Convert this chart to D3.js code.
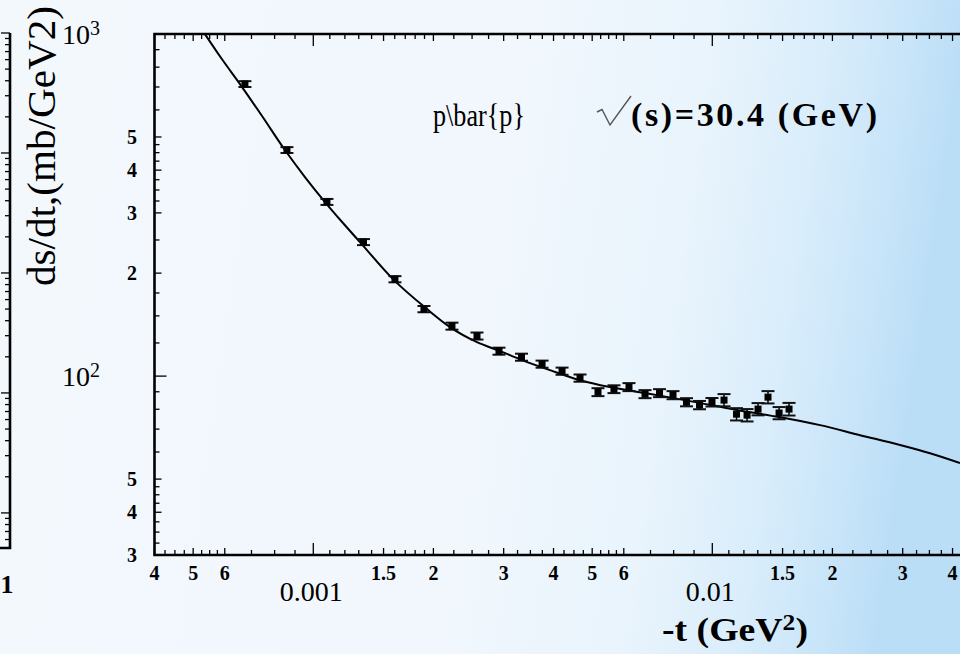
<!DOCTYPE html>
<html>
<head>
<meta charset="utf-8">
<script src="https://cdn.jsdelivr.net/npm/d3@7"></script>
<style>
  html, body { margin: 0; padding: 0; overflow: hidden; }
  svg { display: block; }
  text { font-family: "Liberation Serif", "Times New Roman", serif; fill: #000; }
</style>
</head>
<body>
<svg id="chart" width="960" height="654"></svg>
<script>
// Measured p-pbar elastic differential cross section, sqrt(s) = 30.4 GeV
const tValues = [0.000674, 0.000859, 0.001082, 0.001336, 0.001602, 0.001894, 0.002226, 0.002572,
  0.00292, 0.003325, 0.003744, 0.004202, 0.004661, 0.00517, 0.00567, 0.006183, 0.006782,
  0.007374, 0.00797, 0.008615, 0.009289, 0.00998, 0.0107, 0.0115, 0.01222, 0.01302,
  0.01379, 0.0147, 0.01557];
const dsdtValues = [714, 458, 323, 246.5, 192, 157, 140, 131, 118.3, 113.6, 108.4, 103.4, 98.7,
  89.8, 91.6, 92.9, 88.6, 89.2, 88.0, 83.9, 82.3, 83.9, 85.1, 77.4, 76.9, 80.1, 86.8, 78.0, 80.1];
const dsdtErrors = [14, 9, 6.5, 5, 4, 3.3, 3.3, 3.1, 2.8, 2.7, 2.6, 2.5, 2.4, 2.4, 2.4, 2.5, 2.4,
  2.4, 2.4, 2.3, 2.3, 2.4, 3.5, 3.2, 3.2, 3.3, 3.6, 3.2, 3.4];

// Model curve
const curveT = [0.000535, 0.00059, 0.000655, 0.000744, 0.000849, 0.000953, 0.00107, 0.001187,
  0.001309, 0.001584, 0.001928, 0.002201, 0.002572, 0.002938, 0.003335, 0.003919, 0.00466,
  0.005541, 0.006782, 0.008794, 0.01153, 0.0147, 0.01862, 0.02346, 0.02954, 0.03513, 0.04176];
const curveDsdt = [1000, 845, 714, 575.8, 458, 381.9, 322.7, 280.2, 246.5, 192.1, 157, 139.1,
  125.7, 118.3, 111.4, 104.1, 97.3, 92.9, 89.2, 84.5, 79.6, 75.9, 71.9, 67.2, 62.9, 59.5, 55.7];

// Axis tick labels
const xLabelValues = [0.0004, 0.0005, 0.0006, 0.0015, 0.002, 0.003, 0.004, 0.005, 0.006, 0.015, 0.02, 0.03, 0.04];
const xLabelTexts  = ["4", "5", "6", "1.5", "2", "3", "4", "5", "6", "1.5", "2", "3", "4"];
const xDecadeValues = [0.001, 0.01];
const xDecadeTexts  = ["0.001", "0.01"];
const yLabelValues = [500, 400, 300, 200, 50, 40, 30];
const yLabelTexts  = ["5", "4", "3", "2", "5", "4", "3"];
const yDecadeValues = [1000, 100];
const yDecadeExps   = ["3", "2"];

// Mantissas at which minor ticks are placed inside each decade
const xTickMantissas = [1, 1.1, 1.2, 1.3, 1.4, 1.5, 1.6, 1.7, 1.8, 1.9, 2, 2.25, 2.5, 2.75, 3,
  3.25, 3.5, 3.75, 4, 4.25, 4.5, 4.75, 5, 5.25, 5.5, 5.75, 6, 7, 8, 9];
const yTickMantissas = [1, 1.25, 1.5, 1.75, 2, 2.5, 3, 3.25, 3.5, 3.75, 4, 4.25, 4.5, 4.75, 5, 6, 7, 8, 9];

const W = 960, H = 654;
const svg = d3.select("#chart");

// Background wash
const defs = svg.append("defs");
const grad = defs.append("linearGradient").attr("id", "bg").attr("x1", 0).attr("y1", 0).attr("x2", 1).attr("y2", 0.1);
[[0, "#f3f8fd"], [0.55, "#f1f7fd"], [0.74, "#e9f4fc"], [0.86, "#d9edfb"], [0.94, "#c9e5f9"], [1, "#bbdef7"]]
  .forEach(([o, c]) => grad.append("stop").attr("offset", o).attr("stop-color", c));
svg.append("rect").attr("width", W).attr("height", H).attr("fill", "url(#bg)");

const plot = { left: 154.5, right: 961, top: 34, bottom: 555 };
const x = d3.scaleLog().domain([0.0004, 0.042]).range([plot.left, plot.right]);
const y = d3.scaleLog().domain([30, 1000]).range([plot.bottom, plot.top]);

defs.append("clipPath").attr("id", "plotClip").append("rect")
  .attr("x", plot.left).attr("y", plot.top)
  .attr("width", plot.right - plot.left).attr("height", plot.bottom - plot.top);

// Tick lists
function decadeTicks(mantissas, lo, hi) {
  const out = [];
  for (let e = Math.floor(Math.log10(lo)) ; e <= Math.ceil(Math.log10(hi)); e++) {
    mantissas.forEach(m => {
      const v = +(m * Math.pow(10, e)).toPrecision(6);
      if (v >= lo * 0.9999 && v <= hi * 1.0001) out.push(v);
    });
  }
  return out;
}
const isNear = (a, arr) => arr.some(b => Math.abs(a / b - 1) < 1e-6);
const xTicks = decadeTicks(xTickMantissas, 0.0004, 0.042);
const yTicks = decadeTicks(yTickMantissas, 30, 1000);
const tickLen = (v, labels, decades) => isNear(v, decades) ? 12 : (isNear(v, labels) ? 7 : 5);

const axes = svg.append("g").attr("stroke", "#000").attr("fill", "none");

// Bottom and top ticks (pointing into the frame)
axes.selectAll("line.xb").data(xTicks).join("line")
  .attr("x1", d => x(d)).attr("x2", d => x(d))
  .attr("y1", plot.bottom).attr("y2", d => plot.bottom - tickLen(d, xLabelValues, xDecadeValues))
  .attr("stroke-width", 1.3);
axes.selectAll("line.xt").data(xTicks).join("line")
  .attr("x1", d => x(d)).attr("x2", d => x(d))
  .attr("y1", plot.top).attr("y2", d => plot.top + tickLen(d, xLabelValues, xDecadeValues))
  .attr("stroke-width", 1.3);
// Left ticks
axes.selectAll("line.yl").data(yTicks).join("line")
  .attr("y1", d => y(d)).attr("y2", d => y(d))
  .attr("x1", plot.left).attr("x2", d => plot.left + tickLen(d, yLabelValues, yDecadeValues))
  .attr("stroke-width", 1.3);

// Frame lines
axes.append("path")
  .attr("d", `M${W},${plot.top}H${plot.left}V${plot.bottom}H${W}`)
  .attr("stroke-width", 2.6);

// Tick labels
svg.append("g").selectAll("text").data(xLabelValues).join("text")
  .attr("x", d => x(d)).attr("y", 580)
  .attr("text-anchor", "middle").attr("font-size", 20).attr("font-weight", "bold")
  .text((d, i) => xLabelTexts[i]);
svg.append("g").selectAll("text").data(xDecadeValues).join("text")
  .attr("x", d => x(d) - 2).attr("y", 601)
  .attr("text-anchor", "middle").attr("font-size", 28)
  .text((d, i) => xDecadeTexts[i]);
svg.append("g").selectAll("text").data(yLabelValues).join("text")
  .attr("x", 137).attr("y", d => y(d) + 7)
  .attr("text-anchor", "end").attr("font-size", 20).attr("font-weight", "bold")
  .text((d, i) => yLabelTexts[i]);
const yDec = svg.append("g").selectAll("text").data(yDecadeValues).join("text")
  .attr("x", 62).attr("y", d => y(d) + 10).attr("font-size", 28);
yDec.append("tspan").text("10");
yDec.append("tspan").attr("font-size", 20).attr("dy", -9).text((d, i) => yDecadeExps[i]);

// Axis titles
const xTitle = svg.append("text").attr("x", 662).attr("y", 641)
  .attr("font-size", 34).attr("font-weight", "bold")
  .attr("textLength", 146).attr("lengthAdjust", "spacingAndGlyphs");
xTitle.append("tspan").text("-t (GeV");
xTitle.append("tspan").attr("font-size", 23).attr("dy", -11).text("2");
xTitle.append("tspan").attr("dy", 11).text(")");

svg.append("text")
  .attr("transform", "translate(55,146) rotate(-90)")
  .attr("text-anchor", "middle").attr("font-size", 40)
  .attr("textLength", 280).attr("lengthAdjust", "spacingAndGlyphs")
  .text("ds/dt,(mb/GeV2)");

// Legend-style annotation
svg.append("text").attr("x", 433).attr("y", 126).attr("font-size", 32)
  .attr("textLength", 92).attr("lengthAdjust", "spacingAndGlyphs")
  .text("p\\bar{p}");
// radical sign of the sqrt
svg.append("path")
  .attr("d", "M597,112L602,109.5L610,125L631,96")
  .attr("fill", "none").attr("stroke", "#555").attr("stroke-width", 1.4)
  .attr("stroke-linejoin", "miter");
svg.append("text").attr("x", 631).attr("y", 126).attr("font-size", 34).attr("font-weight", "bold")
  .attr("textLength", 246).attr("lengthAdjust", "spacing")
  .text("(s)=30.4 (GeV)");

// Model curve
const line = d3.line().x(d => x(d[0])).y(d => y(d[1])).curve(d3.curveMonotoneX);
svg.append("path")
  .datum(curveT.map((t, i) => [t, curveDsdt[i]]))
  .attr("clip-path", "url(#plotClip)")
  .attr("d", line).attr("fill", "none").attr("stroke", "#000").attr("stroke-width", 2);

// Data points with error bars
const pts = svg.append("g").selectAll("g").data(tValues.map((t, i) => ({ t, v: dsdtValues[i], e: dsdtErrors[i] })))
  .join("g");
pts.append("line")
  .attr("x1", d => x(d.t)).attr("x2", d => x(d.t))
  .attr("y1", d => y(d.v + d.e)).attr("y2", d => y(d.v - d.e))
  .attr("stroke", "#000").attr("stroke-width", 1.5);
pts.selectAll("line.cap").data(d => [d.v + d.e, d.v - d.e].map(v => ({ t: d.t, v })))
  .join("line")
  .attr("x1", d => x(d.t) - 6.5).attr("x2", d => x(d.t) + 6.5)
  .attr("y1", d => y(d.v)).attr("y2", d => y(d.v))
  .attr("stroke", "#111").attr("stroke-width", 2);
pts.append("rect")
  .attr("x", d => x(d.t) - 3.5).attr("y", d => y(d.v) - 3.5)
  .attr("width", 7).attr("height", 7).attr("fill", "#000");

// Right edge of the neighbouring panel on the left
const yLeft = d3.scaleLog().domain([0.51, 10000]).range([548, 33]);
const leftTicks = decadeTicks([1, 2, 3, 4, 5, 6, 7, 8, 9], 0.51, 10000);
const lp = svg.append("g").attr("stroke", "#000").attr("fill", "none");
lp.selectAll("line").data(leftTicks).join("line")
  .attr("x1", 10).attr("x2", d => isNear(d, [1, 10, 100, 1000, 10000]) ? 1 : 5)
  .attr("y1", d => yLeft(d)).attr("y2", d => yLeft(d))
  .attr("stroke-width", 1.3);
lp.append("path").attr("d", `M0,548H10V${yLeft(10000)}`).attr("stroke-width", 2.6);
svg.append("text").attr("x", 7).attr("y", 593).attr("text-anchor", "middle")
  .attr("font-size", 26).attr("font-weight", "bold").text("1");
</script>
</body>
</html>
